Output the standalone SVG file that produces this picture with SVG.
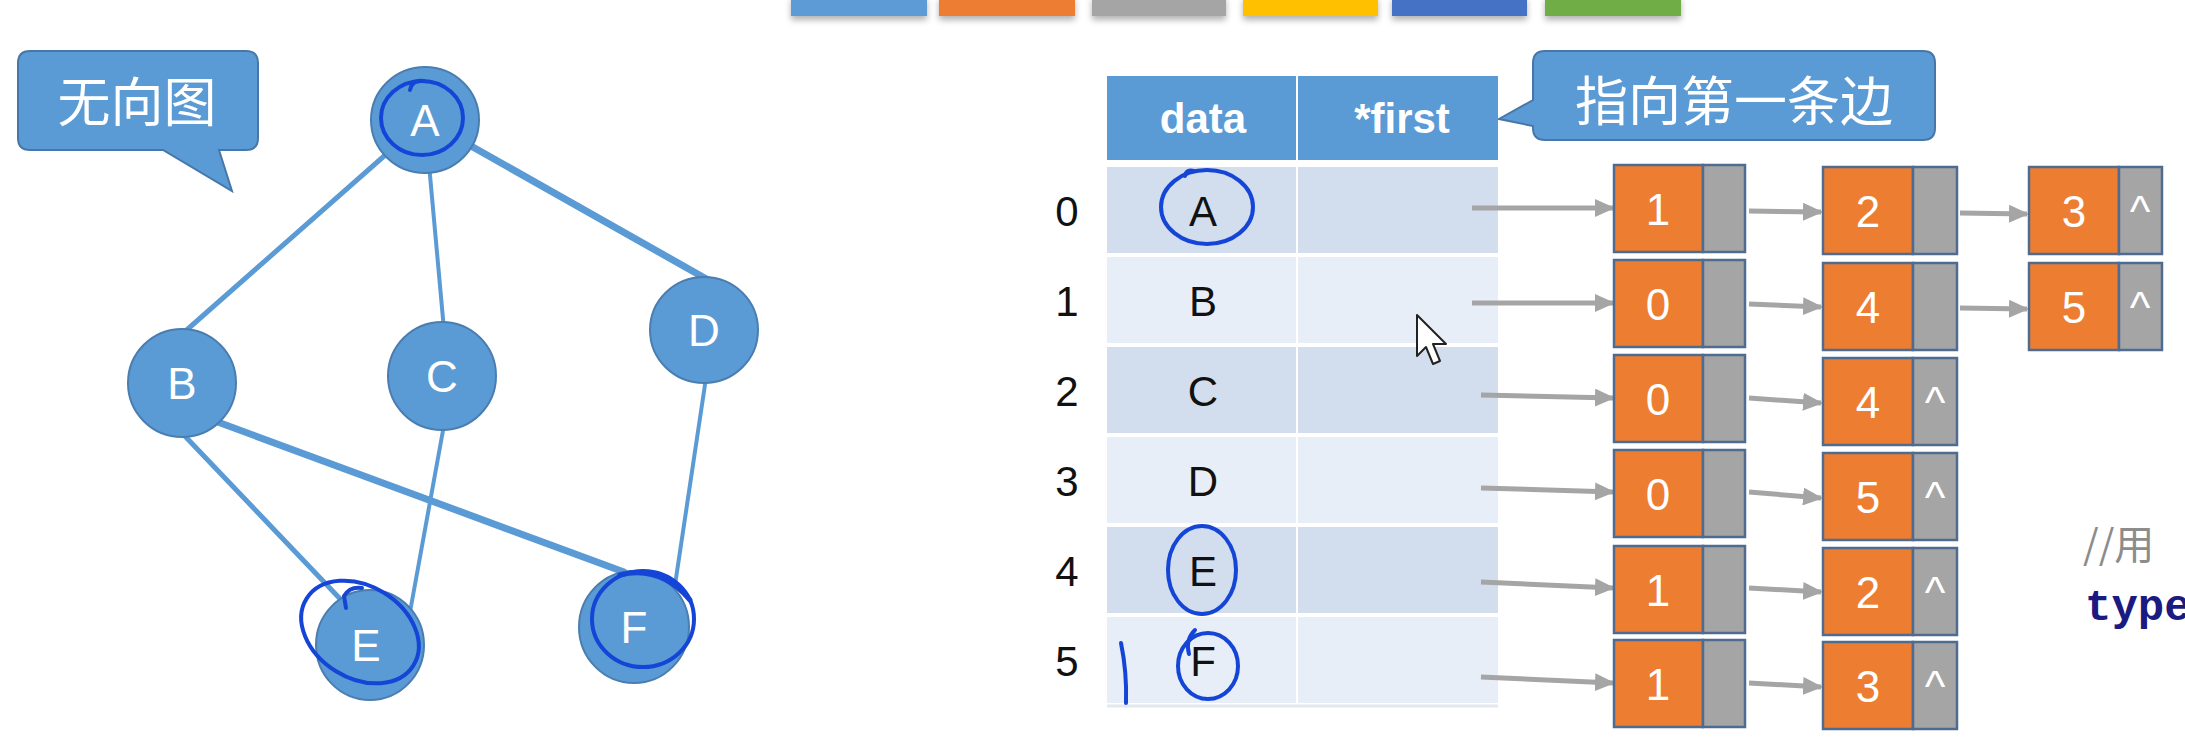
<svg xmlns="http://www.w3.org/2000/svg" width="2185" height="745" viewBox="0 0 2185 745">
<style>
.bg{fill:#ffffff}
.gedge{stroke:#5B9BD5;stroke-width:5;fill:none;stroke-linecap:round}
.gnode{fill:#5B9BD5;stroke:#4A7DB0;stroke-width:2}
.glabel{font-family:"Liberation Sans",Arial,sans-serif;font-size:44px;fill:#ffffff;text-anchor:middle}
.callout{fill:#5B9BD5;stroke:#4677A8;stroke-width:2}
.cjk{font-family:"Noto Sans CJK SC","Noto Sans CJK JP",sans-serif;font-size:53px;fill:#ffffff;text-anchor:middle}
.hdr{fill:#5B9BD5}
.hdrtxt{font-family:"Liberation Sans",Arial,sans-serif;font-size:42px;font-weight:bold;fill:#ffffff;text-anchor:middle}
.rowd{fill:#D2DDEE}
.rowl{fill:#E8EEF7}
.cell{font-family:"Liberation Sans",Arial,sans-serif;font-size:42px;fill:#111111;text-anchor:middle}
.idx{font-family:"Liberation Sans",Arial,sans-serif;font-size:42px;fill:#111111;text-anchor:middle}
.org{fill:#ED7D31;stroke:#4F6B8F;stroke-width:2.5}
.gry{fill:#A5A5A5;stroke:#4F6B8F;stroke-width:2.5}
.num{font-family:"Liberation Sans",Arial,sans-serif;font-size:44px;fill:#ffffff;text-anchor:middle}
.arr{stroke:#A5A5A5;stroke-width:5;fill:none;marker-end:url(#ah)}
.pen{stroke:#1545D6;stroke-width:4;fill:none;stroke-linecap:round}
</style>
<defs>
<marker id="ah" markerUnits="userSpaceOnUse" markerWidth="20" markerHeight="18" refX="18" refY="9" orient="auto">
<path d="M0,0 L20,9 L0,18 Z" fill="#A5A5A5"/>
</marker>
<filter id="sh" x="-10%" y="-50%" width="120%" height="250%">
<feDropShadow dx="0" dy="4" stdDeviation="3" flood-color="#000000" flood-opacity="0.3"/>
</filter>
</defs>
<rect class="bg" x="0" y="0" width="2185" height="745"/>

<g id="color-bars" filter="url(#sh)">
<rect x="791" y="-4" width="136" height="20" fill="#5B9BD5"/>
<rect x="939" y="-4" width="136" height="20" fill="#ED7D31"/>
<rect x="1092" y="-4" width="134" height="20" fill="#A5A5A5"/>
<rect x="1243" y="-4" width="135" height="20" fill="#FFC000"/>
<rect x="1392" y="-4" width="135" height="20" fill="#4472C4"/>
<rect x="1545" y="-4" width="136" height="20" fill="#70AD47"/>
</g>

<g id="callout-undirected">
<path class="callout" d="M30,51 H246 Q258,51 258,63 V138 Q258,150 246,150 H219 L232,191 L163,150 H30 Q18,150 18,138 V63 Q18,51 30,51 Z"/>
<text class="cjk" x="137" y="122">无向图</text>
</g>

<g id="graph-edges">
<line class="gedge" x1="425" y1="120" x2="181" y2="335"/>
<line class="gedge" x1="425" y1="120" x2="444" y2="330" style="stroke-width:4"/>
<line class="gedge" x1="425" y1="120" x2="710" y2="281" style="stroke-width:7"/>
<line class="gedge" x1="181" y1="432" x2="345" y2="604"/>
<line class="gedge" x1="215" y1="421" x2="624" y2="572" style="stroke-width:7"/>
<line class="gedge" x1="444" y1="425" x2="410" y2="612" style="stroke-width:4"/>
<line class="gedge" x1="706" y1="378" x2="675" y2="585" style="stroke-width:4"/>
</g>

<g id="node-A"><ellipse class="gnode" cx="425" cy="120" rx="54" ry="53"/><text class="glabel" x="425" y="136">A</text></g>
<g id="node-B"><ellipse class="gnode" cx="182" cy="383" rx="54" ry="54"/><text class="glabel" x="182" y="399">B</text></g>
<g id="node-C"><ellipse class="gnode" cx="442" cy="376" rx="54" ry="54"/><text class="glabel" x="442" y="392">C</text></g>
<g id="node-D"><ellipse class="gnode" cx="704" cy="330" rx="54" ry="53"/><text class="glabel" x="704" y="346">D</text></g>
<g id="node-E"><ellipse class="gnode" cx="370" cy="645" rx="54" ry="55"/><text class="glabel" x="366" y="661">E</text></g>
<g id="node-F"><ellipse class="gnode" cx="634" cy="627" rx="55" ry="56"/><text class="glabel" x="634" y="643">F</text></g>

<g id="graph-annotations">
<ellipse class="pen" cx="422" cy="118" rx="41" ry="37"/>
<path class="pen" d="M410,90 Q412,79 424,81"/>
<ellipse class="pen" cx="360" cy="632" rx="63" ry="46" transform="rotate(32 360 632)"/>
<path class="pen" d="M346,608 L344,596 Q350,586 362,588"/>
<ellipse class="pen" cx="643" cy="619" rx="51" ry="48"/>
<path class="pen" d="M620,575 Q660,565 690,600" style="stroke-width:5"/>
</g>

<g id="callout-first">
<path class="callout" d="M1545,51 H1923 Q1935,51 1935,63 V128 Q1935,140 1923,140 H1545 Q1533,140 1533,128 V126 L1499,119 L1533,100 V63 Q1533,51 1545,51 Z"/>
<text class="cjk" x="1734" y="121">指向第一条边</text>
</g>

<g id="table">
<rect class="hdr" x="1107" y="76" width="189" height="84"/>
<rect class="hdr" x="1298" y="76" width="200" height="84"/>
<text class="hdrtxt" x="1203" y="133">data</text>
<text class="hdrtxt" x="1402" y="133">*first</text>
<rect class="rowd" x="1107" y="167" width="189" height="86"/><rect class="rowd" x="1298" y="167" width="200" height="86"/>
<rect class="rowl" x="1107" y="257" width="189" height="86"/><rect class="rowl" x="1298" y="257" width="200" height="86"/>
<rect class="rowd" x="1107" y="347" width="189" height="86"/><rect class="rowd" x="1298" y="347" width="200" height="86"/>
<rect class="rowl" x="1107" y="437" width="189" height="86"/><rect class="rowl" x="1298" y="437" width="200" height="86"/>
<rect class="rowd" x="1107" y="527" width="189" height="86"/><rect class="rowd" x="1298" y="527" width="200" height="86"/>
<rect class="rowl" x="1107" y="617" width="189" height="86"/><rect class="rowl" x="1298" y="617" width="200" height="86"/>
<line x1="1107" y1="706" x2="1498" y2="706" stroke="#E3E8F0" stroke-width="3"/>
<text class="cell" x="1203" y="226">A</text>
<text class="cell" x="1203" y="316">B</text>
<text class="cell" x="1203" y="406">C</text>
<text class="cell" x="1203" y="496">D</text>
<text class="cell" x="1203" y="586">E</text>
<text class="cell" x="1203" y="676">F</text>
<text class="idx" x="1067" y="226">0</text>
<text class="idx" x="1067" y="316">1</text>
<text class="idx" x="1067" y="406">2</text>
<text class="idx" x="1067" y="496">3</text>
<text class="idx" x="1067" y="586">4</text>
<text class="idx" x="1067" y="676">5</text>
</g>

<g id="table-annotations">
<ellipse class="pen" cx="1207" cy="207" rx="46" ry="37"/>
<path class="pen" d="M1185,176 Q1186,169 1194,171"/>
<ellipse class="pen" cx="1202" cy="570" rx="34" ry="44"/>
<ellipse class="pen" cx="1208" cy="666" rx="30" ry="33"/>
<path class="pen" d="M1195,630 Q1185,640 1189,654"/>
<path class="pen" d="M1121,643 Q1127,672 1126,703"/>
</g>

<g id="cursor">
<path d="M1417,315 L1417,356 L1426,347 L1433,364 L1440,361 L1433,344 L1446,344 Z" fill="#ffffff" stroke="#222222" stroke-width="2" stroke-linejoin="round"/>
</g>

<g id="connectors">
<line class="arr" x1="1472" y1="208" x2="1613" y2="208"/>
<line class="arr" x1="1472" y1="303" x2="1613" y2="303"/>
<line class="arr" x1="1481" y1="395" x2="1613" y2="398"/>
<line class="arr" x1="1481" y1="488" x2="1613" y2="492"/>
<line class="arr" x1="1481" y1="582" x2="1613" y2="588"/>
<line class="arr" x1="1481" y1="677" x2="1613" y2="683"/>
<line class="arr" x1="1749" y1="211" x2="1821" y2="212"/>
<line class="arr" x1="1749" y1="304" x2="1821" y2="307"/>
<line class="arr" x1="1749" y1="398" x2="1821" y2="403"/>
<line class="arr" x1="1749" y1="492" x2="1821" y2="498"/>
<line class="arr" x1="1749" y1="588" x2="1821" y2="592"/>
<line class="arr" x1="1749" y1="683" x2="1821" y2="687"/>
<line class="arr" x1="1960" y1="213" x2="2027" y2="214"/>
<line class="arr" x1="1960" y1="308" x2="2027" y2="309"/>
</g>

<g id="edge-0-1"><rect class="org" x="1614" y="165" width="89" height="87"/><rect class="gry" x="1703" y="165" width="42" height="87"/><text class="num" x="1658" y="225">1</text></g>
<g id="edge-1-0"><rect class="org" x="1614" y="260" width="89" height="87"/><rect class="gry" x="1703" y="260" width="42" height="87"/><text class="num" x="1658" y="320">0</text></g>
<g id="edge-2-0"><rect class="org" x="1614" y="355" width="89" height="87"/><rect class="gry" x="1703" y="355" width="42" height="87"/><text class="num" x="1658" y="415">0</text></g>
<g id="edge-3-0"><rect class="org" x="1614" y="450" width="89" height="87"/><rect class="gry" x="1703" y="450" width="42" height="87"/><text class="num" x="1658" y="510">0</text></g>
<g id="edge-4-1"><rect class="org" x="1614" y="546" width="89" height="87"/><rect class="gry" x="1703" y="546" width="42" height="87"/><text class="num" x="1658" y="606">1</text></g>
<g id="edge-5-1"><rect class="org" x="1614" y="640" width="89" height="87"/><rect class="gry" x="1703" y="640" width="42" height="87"/><text class="num" x="1658" y="700">1</text></g>

<g id="edge-0-2"><rect class="org" x="1823" y="167" width="90" height="87"/><rect class="gry" x="1913" y="167" width="44" height="87"/><text class="num" x="1868" y="227">2</text></g>
<g id="edge-1-4"><rect class="org" x="1823" y="263" width="90" height="87"/><rect class="gry" x="1913" y="263" width="44" height="87"/><text class="num" x="1868" y="323">4</text></g>
<g id="edge-2-4"><rect class="org" x="1823" y="358" width="90" height="87"/><rect class="gry" x="1913" y="358" width="44" height="87"/><text class="num" x="1868" y="418">4</text><text class="num" x="1935" y="418">^</text></g>
<g id="edge-3-5"><rect class="org" x="1823" y="453" width="90" height="87"/><rect class="gry" x="1913" y="453" width="44" height="87"/><text class="num" x="1868" y="513">5</text><text class="num" x="1935" y="513">^</text></g>
<g id="edge-4-2"><rect class="org" x="1823" y="548" width="90" height="87"/><rect class="gry" x="1913" y="548" width="44" height="87"/><text class="num" x="1868" y="608">2</text><text class="num" x="1935" y="608">^</text></g>
<g id="edge-5-3"><rect class="org" x="1823" y="642" width="90" height="87"/><rect class="gry" x="1913" y="642" width="44" height="87"/><text class="num" x="1868" y="702">3</text><text class="num" x="1935" y="702">^</text></g>

<g id="edge-0-3"><rect class="org" x="2029" y="167" width="90" height="87"/><rect class="gry" x="2119" y="167" width="43" height="87"/><text class="num" x="2074" y="227">3</text><text class="num" x="2140" y="227">^</text></g>
<g id="edge-1-5"><rect class="org" x="2029" y="263" width="90" height="87"/><rect class="gry" x="2119" y="263" width="43" height="87"/><text class="num" x="2074" y="323">5</text><text class="num" x="2140" y="323">^</text></g>

<g id="code-fragment">
<text x="2083" y="559" font-family="&quot;Noto Sans CJK SC&quot;,&quot;Liberation Sans&quot;,sans-serif" font-size="40" fill="#8C8C8C">//用</text>
<text x="2085" y="620" font-family="&quot;Liberation Mono&quot;,&quot;DejaVu Sans Mono&quot;,monospace" font-size="44" font-weight="bold" fill="#1A1A80">type</text>
</g>
</svg>
